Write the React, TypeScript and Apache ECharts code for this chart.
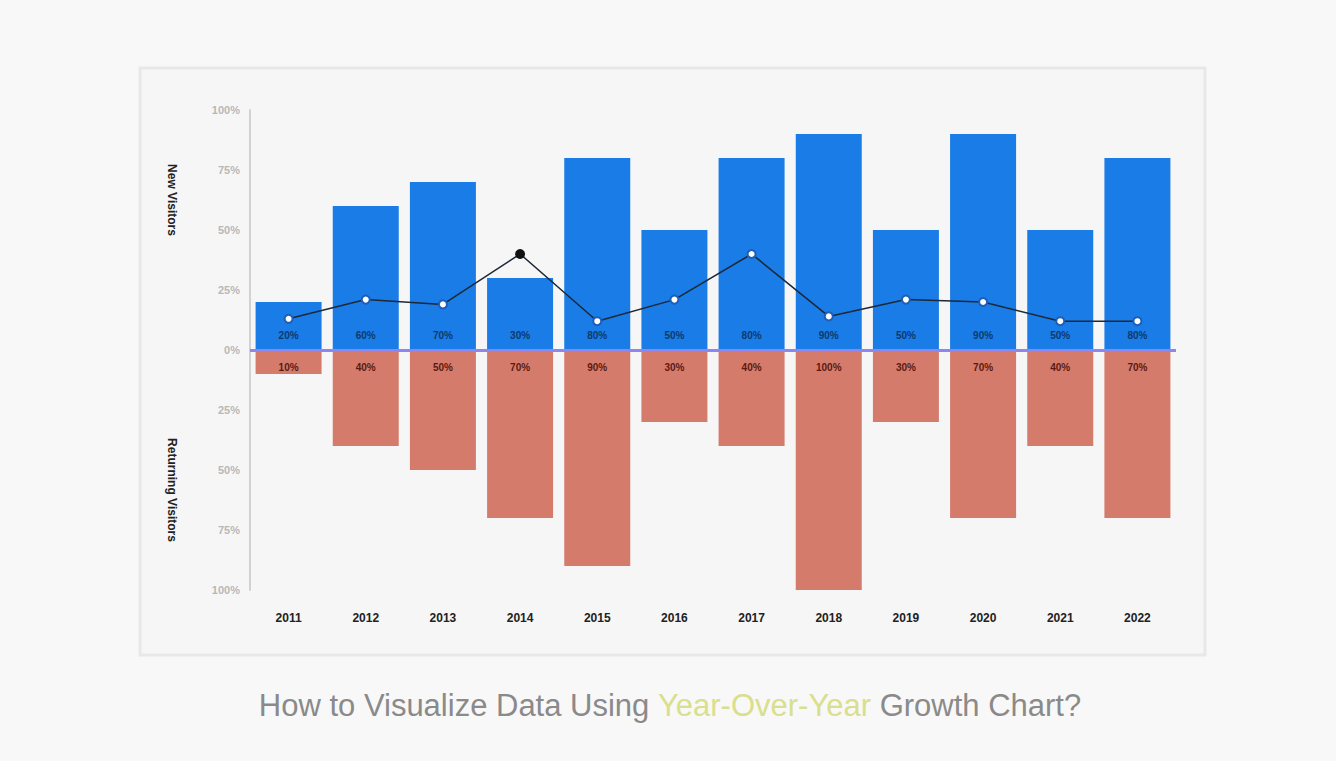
import React, { useEffect, useRef } from "react";
import * as echarts from "echarts";

const years = ["2011", "2012", "2013", "2014", "2015", "2016", "2017", "2018", "2019", "2020", "2021", "2022"];
const newVisitors = [20, 60, 70, 30, 80, 50, 80, 90, 50, 90, 50, 80];
const returningVisitors = [10, 40, 50, 70, 90, 30, 40, 100, 30, 70, 40, 70];
const growthLine = [13, 21, 19, 40, 12, 21, 40, 14, 21, 20, 12, 12];
const yTicks = [-100, -75, -50, -25, 0, 25, 50, 75, 100];

export default function App() {
  const ref = useRef<HTMLDivElement>(null);
  useEffect(() => {
    if (!ref.current) return;
    const chart = echarts.init(ref.current, null, { renderer: "svg" });
    chart.setOption({
      animation: false,
      backgroundColor: "#f8f8f8",
      graphic: [
        {
          type: "rect",
          z: -10,
          shape: { x: 140, y: 68, width: 1065, height: 587 },
          style: { fill: "#f6f6f6", stroke: "#e8e8e8", lineWidth: 3 },
        },
        {
          type: "text",
          x: 172,
          y: 200,
          rotation: -Math.PI / 2,
          style: {
            text: "New Visitors",
            fill: "#222",
            fontSize: 12,
            fontWeight: "bold",
            fontFamily: "Liberation Sans, Arial, sans-serif",
            align: "center",
            verticalAlign: "middle",
          },
        },
        {
          type: "text",
          x: 172,
          y: 490,
          rotation: -Math.PI / 2,
          style: {
            text: "Returning Visitors",
            fill: "#222",
            fontSize: 12,
            fontWeight: "bold",
            fontFamily: "Liberation Sans, Arial, sans-serif",
            align: "center",
            verticalAlign: "middle",
          },
        },
        {
          type: "text",
          x: 670,
          y: 705,
          style: {
            text: "{a|How to Visualize Data Using }{b|Year-Over-Year}{a| Growth Chart?}",
            align: "center",
            verticalAlign: "middle",
            rich: {
              a: { fill: "#8a8a8a", fontSize: 31, fontFamily: "Liberation Sans, Arial, sans-serif" },
              b: { fill: "#d9df8c", fontSize: 31, fontFamily: "Liberation Sans, Arial, sans-serif" },
            },
          },
        },
      ],
      grid: { left: 250, right: 160, top: 110, bottom: 171, containLabel: false },
      xAxis: {
        type: "category",
        data: years,
        axisLine: { show: false, onZero: false },
        axisTick: { show: false },
        axisLabel: {
          color: "#222",
          fontSize: 12,
          fontWeight: "bold",
          margin: 22,
          fontFamily: "Liberation Sans, Arial, sans-serif",
        },
      },
      yAxis: {
        type: "value",
        min: yTicks[0],
        max: yTicks[yTicks.length - 1],
        interval: 25,
        axisLine: { show: true, lineStyle: { color: "#d2d2d2", width: 2 } },
        axisTick: { show: false },
        splitLine: { show: false },
        axisLabel: {
          color: "#b8b8b8",
          fontSize: 11,
          fontWeight: "bold",
          margin: 10,
          formatter: (v: number) => Math.abs(v) + "%",
        },
      },
      series: [
        {
          name: "New Visitors",
          type: "bar",
          stack: "v",
          barWidth: 66,
          data: newVisitors,
          itemStyle: { color: "#1a7ce6" },
          label: {
            show: true,
            position: "insideBottom",
            distance: 10,
            color: "#0d3a6e",
            fontSize: 10,
            fontWeight: "bold",
            formatter: (p: any) => p.value + "%",
          },
          markLine: {
            silent: true,
            symbol: "none",
            label: { show: false },
            lineStyle: { color: "#8e86ec", width: 3, type: "solid" },
            data: [{ yAxis: 0 }],
          },
        },
        {
          name: "Returning Visitors",
          type: "bar",
          stack: "v",
          barWidth: 66,
          data: returningVisitors.map((v) => -v),
          itemStyle: { color: "#d57b6b" },
          label: {
            show: true,
            position: "insideTop",
            distance: 12,
            color: "#5a1a12",
            fontSize: 10,
            fontWeight: "bold",
            formatter: (p: any) => Math.abs(p.value) + "%",
          },
        },
        {
          name: "Growth",
          type: "line",
          data: growthLine.map((v, i) =>
            i === 3 ? { value: v, itemStyle: { color: "#111111", borderColor: "#111111" } } : v
          ),
          z: 5,
          symbol: "circle",
          symbolSize: 8,
          emphasis: { disabled: true },
          lineStyle: { color: "#1c2836", width: 1.5 },
          itemStyle: { color: "#ffffff", borderColor: "#1d5fb8", borderWidth: 2 },
        },
      ],
    });
    return () => chart.dispose();
  }, []);
  return <div ref={ref} style={{ position: "fixed", left: 0, top: 0, width: 1336, height: 761 }} />;
}
